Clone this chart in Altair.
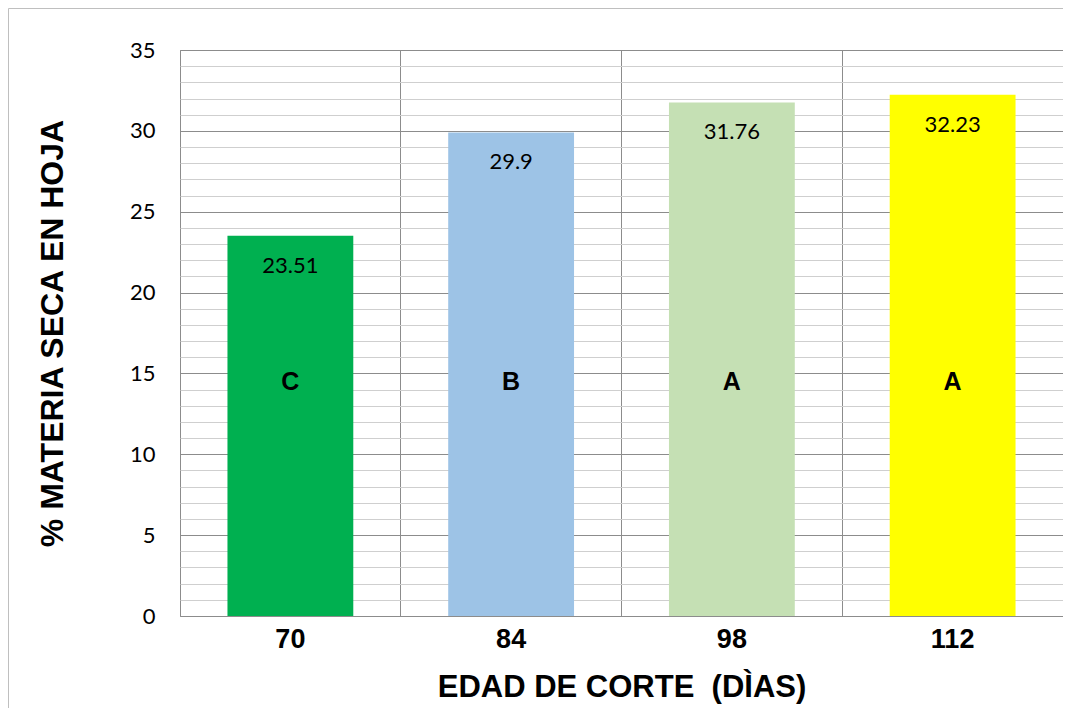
import altair as alt
import pandas as pd

# Data
dias = ["70", "84", "98", "112"]
valores = [23.51, 29.9, 31.76, 32.23]
letras = ["C", "B", "A", "A"]
colores = ["#00B050", "#9DC3E6", "#C5E0B4", "#FFFF00"]
y_ticks = list(range(0, 36))

df = pd.DataFrame({
    "dia": dias,
    "valor": valores,
    "etiqueta": [str(v) for v in valores],
    "letra": letras,
})

W, H = 883, 566

x_enc = alt.X(
    "dia:N",
    sort=dias,
    scale=alt.Scale(paddingInner=0, paddingOuter=0),
    axis=alt.Axis(
        title="EDAD DE CORTE\u00a0\u00a0(DÌAS)",
        labelAngle=0,
        labelFont="Liberation Sans",
        labelFontWeight="bold",
        labelFontSize=27,
        labelColor="#000000",
        labelPadding=10,
        titleFont="Liberation Sans",
        titleFontWeight="bold",
        titleFontSize=31,
        titleColor="#000000",
        titlePadding=20,
        ticks=False,
        domain=False,
        grid=True,
        gridColor="#8c8c8c",
        bandPosition=0,
    ),
)

y_enc = alt.Y(
    "valor:Q",
    scale=alt.Scale(domain=[0, 35], nice=False),
    axis=alt.Axis(
        title="% MATERIA SECA EN HOJA",
        values=y_ticks,
        tickCount=36,
        labelOverlap=False,
        labelExpr="datum.value % 5 === 0 ? datum.label : ''",
        labelFont="Lato",
        labelFontSize=22,
        labelColor="#000000",
        labelPadding=25,
        titleFont="Liberation Sans",
        titleFontWeight="bold",
        titleFontSize=32,
        titleColor="#000000",
        titlePadding=60,
        ticks=False,
        domain=False,
        grid=True,
        gridColor={"condition": {"test": "datum.value % 5 === 0", "value": "#8c8c8c"}, "value": "#cfcfcf"},
    ),
)

base = alt.Chart(df)

bars = base.mark_bar(width=alt.RelativeBandSize(0.57)).encode(
    x=x_enc,
    y=y_enc,
    color=alt.Color("dia:N", scale=alt.Scale(domain=dias, range=colores), legend=None),
)

values_txt = base.mark_text(
    baseline="middle", dy=30, font="Lato", fontSize=22, color="#000000"
).encode(x=alt.X("dia:N", sort=dias), y="valor:Q", text="etiqueta:N")

letters_txt = base.mark_text(
    baseline="middle", font="Liberation Sans", fontWeight="bold", fontSize=25, color="#000000"
).encode(x=alt.X("dia:N", sort=dias), y=alt.datum(14.5), text="letra:N")

frame = alt.Chart(alt.Data(values=[{"k": 1}])).mark_rect(
    fill=None, stroke="#bfbfbf", strokeWidth=1
).encode(
    x=alt.value(-171.5), x2=alt.value(W + 60),
    y=alt.value(-41.5), y2=alt.value(H + 200),
)

chart = alt.layer(bars, values_txt, letters_txt, frame).properties(
    width=W,
    height=H,
    autosize=alt.AutoSizeParams(type="none"),
    padding={"left": 172, "top": 42, "right": 0, "bottom": 92},
    background="#ffffff",
).configure_view(stroke="#8c8c8c", strokeWidth=1)

chart.save("out.html", embed_options={"renderer": "svg", "actions": False})
